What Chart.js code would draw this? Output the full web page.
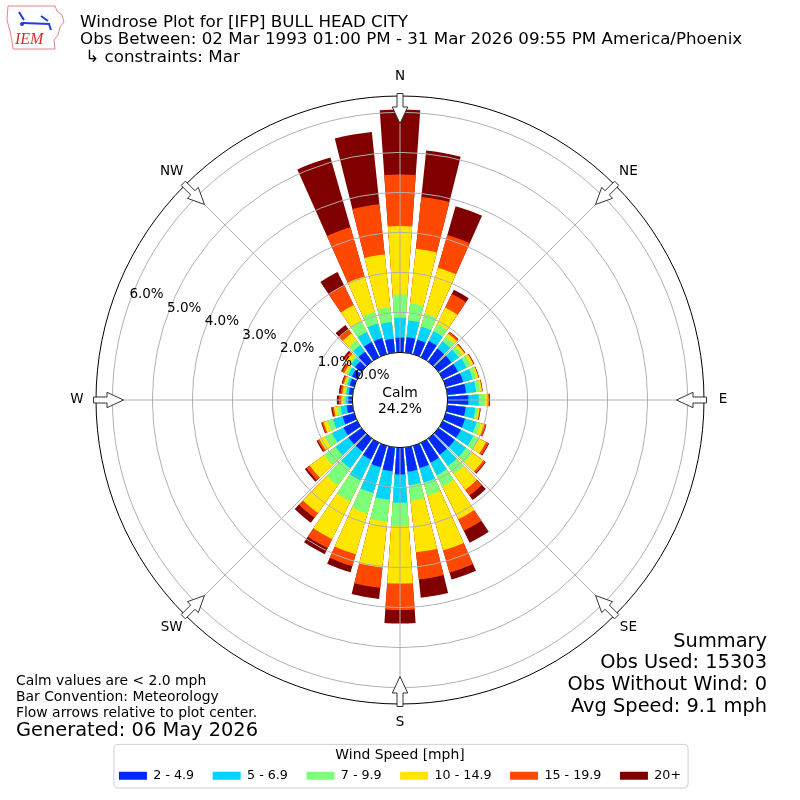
<!DOCTYPE html>
<html>
<head>
<meta charset="utf-8">
<title>Windrose Plot for [IFP] BULL HEAD CITY</title>
<script src="https://cdn.jsdelivr.net/npm/chart.js@4.4.1/dist/chart.umd.min.js"></script>
<style>
  html, body { margin: 0; padding: 0; background: #fff; }
  canvas { display: block; }
</style>
</head>
<body>
<canvas id="windrose" width="800" height="800"></canvas>
<script>
const FONT = '"DejaVu Sans"';

// bar directions, degrees from north (meteorology convention)
const directions = [0, 10, 20, 30, 40, 50, 60, 70, 80, 90, 100, 110, 120, 130, 140, 150, 160, 170,
                    180, 190, 200, 210, 220, 230, 240, 250, 260, 270, 280, 290, 300, 310, 320, 330, 340, 350];
const speedBins = ['2 - 4.9', '5 - 6.9', '7 - 9.9', '10 - 14.9', '15 - 19.9', '20+'];

// percent of all obs in each direction, one list per speed bin
const pct_2_49 = [0.37, 0.39, 0.38, 0.45, 0.40, 0.40, 0.42, 0.45, 0.47, 0.52, 0.46, 0.50, 0.50, 0.50, 0.50, 0.55, 0.58, 0.61,
                  0.67, 0.60, 0.56, 0.47, 0.40, 0.40, 0.38, 0.30, 0.15, 0.10, 0.10, 0.12, 0.15, 0.20, 0.30, 0.42, 0.42, 0.35];
const pct_5_69 = [0.50, 0.42, 0.34, 0.27, 0.22, 0.22, 0.24, 0.25, 0.25, 0.26, 0.24, 0.30, 0.35, 0.35, 0.35, 0.35, 0.38, 0.34,
                  0.71, 0.72, 0.67, 0.58, 0.52, 0.40, 0.32, 0.25, 0.15, 0.07, 0.06, 0.06, 0.10, 0.12, 0.20, 0.28, 0.38, 0.42];
const pct_7_99 = [0.58, 0.43, 0.34, 0.20, 0.14, 0.11, 0.12, 0.10, 0.10, 0.15, 0.07, 0.10, 0.15, 0.20, 0.25, 0.32, 0.34, 0.40,
                  0.59, 0.55, 0.53, 0.58, 0.53, 0.35, 0.20, 0.15, 0.10, 0.05, 0.04, 0.04, 0.05, 0.06, 0.15, 0.30, 0.30, 0.37];
const pct_10_149 = [1.71, 1.37, 1.19, 0.46, 0.10, 0.07, 0.07, 0.05, 0.05, 0.09, 0.04, 0.10, 0.20, 0.33, 0.48, 0.91, 1.42, 1.29,
                    1.43, 1.15, 1.06, 1.05, 0.85, 0.45, 0.15, 0.10, 0.07, 0.06, 0.06, 0.05, 0.06, 0.09, 0.22, 0.45, 0.92, 1.33];
const pct_15_199 = [1.29, 1.30, 0.85, 0.38, 0.05, 0.02, 0.02, 0.01, 0.01, 0.02, 0.02, 0.05, 0.07, 0.06, 0.18, 0.32, 0.58, 0.68,
                    0.66, 0.51, 0.31, 0.25, 0.15, 0.10, 0.05, 0.04, 0.04, 0.06, 0.05, 0.04, 0.06, 0.07, 0.13, 0.55, 1.28, 1.26];
const pct_20p = [1.62, 1.17, 0.75, 0.12, 0.01, 0.01, 0.01, 0.01, 0.01, 0.02, 0.01, 0.01, 0.02, 0.02, 0.14, 0.33, 0.18, 0.46,
                 0.34, 0.28, 0.16, 0.17, 0.15, 0.05, 0.03, 0.02, 0.03, 0.05, 0.04, 0.02, 0.03, 0.04, 0.13, 0.37, 1.82, 1.82];

const rTicks = [0, 1, 2, 3, 4, 5, 6];
const compass = ['N', 'NE', 'E', 'SE', 'S', 'SW', 'W', 'NW'];
const calmPct = 24.2;

const titleLines = [
  'Windrose Plot for [IFP] BULL HEAD CITY',
  'Obs Between: 02 Mar 1993 01:00 PM - 31 Mar 2026 09:55 PM America/Phoenix',
  ' \u21b3 constraints: Mar'
];
const noteLines = ['Calm values are < 2.0 mph', 'Bar Convention: Meteorology', 'Flow arrows relative to plot center.'];
const generatedText = 'Generated: 06 May 2026';
const summaryLines = ['Summary', 'Obs Used: 15303', 'Obs Without Wind: 0', 'Avg Speed: 9.1 mph'];

const binColors = ['#0028ff', '#00d4ff', '#7cff79', '#ffe600', '#ff4800', '#800000'];
const R_MIN = -1.19;   // puts 0% on the edge of the calm circle
const R_MAX = 6.41;
const BAR_DEG = 8;
const GAP_DEG = 2;

// stack the bins: each dataset holds the running total, drawn from the center,
// smaller totals painted over larger ones. every bar is followed by an empty gap slice.
const series = [pct_2_49, pct_5_69, pct_7_99, pct_10_149, pct_15_199, pct_20p];
let running = directions.map(() => 0);
const datasets = series.map((s, i) => {
  running = running.map((v, d) => v + s[d]);
  const data = [];
  running.forEach(v => data.push(v, R_MIN));
  return {
    label: speedBins[i],
    data: data,
    backgroundColor: binColors[i],
    borderWidth: 0,
    angle: c => (c.dataIndex % 2 ? GAP_DEG : BAR_DEG)
  };
});
const labels = [];
directions.forEach(d => labels.push(d + '\u00b0', ''));

function polar(s, bearing, r) {
  const a = (bearing - 90) * Math.PI / 180;
  return [s.xCenter + r * Math.cos(a), s.yCenter + r * Math.sin(a)];
}

function drawArrow(ctx, s, bearing, rTail, rTip) {
  const b = bearing * Math.PI / 180;
  const rNeck = rTip + 16.5;
  const pts = [[rTail, -3], [rNeck, -3], [rNeck, -7.7], [rTip, 0], [rNeck, 7.7], [rNeck, 3], [rTail, 3]];
  ctx.beginPath();
  pts.forEach(([u, w], i) => {
    const x = s.xCenter + u * Math.sin(b) + w * Math.cos(b);
    const y = s.yCenter - u * Math.cos(b) + w * Math.sin(b);
    if (i === 0) ctx.moveTo(x, y); else ctx.lineTo(x, y);
  });
  ctx.closePath();
  ctx.fillStyle = '#fff';
  ctx.fill();
  ctx.strokeStyle = '#333';
  ctx.lineWidth = 1;
  ctx.stroke();
}

function drawLogo(ctx) {
  ctx.save();
  ctx.strokeStyle = '#e08585';
  ctx.lineWidth = 1;
  ctx.beginPath();
  ctx.moveTo(8, 6); ctx.lineTo(55, 6); ctx.lineTo(57, 11); ctx.lineTo(62, 15); ctx.lineTo(64, 22);
  ctx.lineTo(60, 27); ctx.lineTo(58, 35); ctx.lineTo(54, 40); ctx.lineTo(55, 49); ctx.lineTo(13, 49);
  ctx.lineTo(12, 41); ctx.lineTo(10, 31); ctx.lineTo(7, 20); ctx.closePath();
  ctx.stroke();
  ctx.strokeStyle = '#1f3fd6';
  ctx.fillStyle = '#1f3fd6';
  ctx.lineWidth = 2;
  ctx.beginPath();
  ctx.moveTo(23, 23); ctx.lineTo(50, 24);
  ctx.moveTo(19, 12); ctx.lineTo(24, 20);
  ctx.moveTo(41, 16); ctx.lineTo(48, 21);
  ctx.moveTo(49, 24); ctx.lineTo(51, 30);
  ctx.stroke();
  ctx.beginPath(); ctx.arc(22, 24, 2, 0, Math.PI * 2); ctx.fill();
  ctx.font = 'italic 16px "Liberation Serif"';
  ctx.fillStyle = '#d42a2a';
  ctx.textAlign = 'left';
  ctx.textBaseline = 'alphabetic';
  ctx.fillText('IEM', 15, 44);
  ctx.restore();
}

const windroseDecor = {
  id: 'windroseDecor',
  beforeDraw(chart) {
    // legend frame
    const lg = chart.legend;
    if (!lg || !lg.legendHitBoxes.length) return;
    const hb = lg.legendHitBoxes;
    const last = hb[hb.length - 1];
    const x0 = hb[0].left - 5, x1 = last.left + last.width + 7;
    const y0 = lg.top - 4, y1 = lg.bottom - 4;
    const ctx = chart.ctx;
    ctx.save();
    ctx.beginPath();
    ctx.roundRect(x0, y0, x1 - x0, y1 - y0, 4);
    ctx.fillStyle = 'rgba(255,255,255,0.8)';
    ctx.fill();
    ctx.strokeStyle = '#d0d0d0';
    ctx.lineWidth = 1;
    ctx.stroke();
    ctx.restore();
  },
  afterDraw(chart) {
    const ctx = chart.ctx;
    const s = chart.scales.r;
    const r0 = s.getDistanceFromCenterForValue(0);
    const rOut = s.getDistanceFromCenterForValue(R_MAX);
    ctx.save();

    // spokes every 45 degrees, over the bars
    ctx.strokeStyle = '#b0b0b0';
    ctx.lineWidth = 1;
    compass.forEach((c, i) => {
      const a = polar(s, i * 45, r0), b = polar(s, i * 45, rOut);
      ctx.beginPath();
      ctx.moveTo(a[0], a[1]);
      ctx.lineTo(b[0], b[1]);
      ctx.stroke();
    });

    // calm circle
    ctx.beginPath();
    ctx.arc(s.xCenter, s.yCenter, r0, 0, Math.PI * 2);
    ctx.fillStyle = '#fff';
    ctx.fill();
    ctx.strokeStyle = '#000';
    ctx.stroke();
    ctx.fillStyle = '#000';
    ctx.font = '13.9px ' + FONT;
    ctx.textAlign = 'center';
    ctx.textBaseline = 'alphabetic';
    ctx.fillText('Calm', s.xCenter, s.yCenter - 3.5);
    ctx.fillText(calmPct.toFixed(1) + '%', s.xCenter, s.yCenter + 12.5);

    // radial tick labels
    ctx.font = '13.5px ' + FONT;
    ctx.textBaseline = 'middle';
    rTicks.forEach(v => {
      const p = polar(s, 289.7, s.getDistanceFromCenterForValue(v));
      ctx.fillText(v.toFixed(1) + '%', p[0] + 17.3, p[1] - 8.3);
    });

    // compass labels and flow arrows
    compass.forEach((c, i) => {
      const p = polar(s, i * 45, rOut + 19);
      ctx.fillStyle = '#000';
      ctx.fillText(c, p[0], p[1] - 0.5);
      drawArrow(ctx, s, i * 45, rOut + 2.5, rOut - 27.5);
    });

    // header
    drawLogo(ctx);
    ctx.fillStyle = '#000';
    ctx.textAlign = 'left';
    ctx.textBaseline = 'alphabetic';
    ctx.font = '16.7px ' + FONT;
    [26.5, 44, 61.5].forEach((y, i) => ctx.fillText(titleLines[i], 80, y));

    // notes, bottom left
    ctx.font = '13.9px ' + FONT;
    [685, 701, 717].forEach((y, i) => ctx.fillText(noteLines[i], 16, y));
    ctx.font = '19.4px ' + FONT;
    ctx.fillText(generatedText, 16, 736);

    // summary, bottom right
    ctx.textAlign = 'right';
    [646.5, 668.3, 690, 712.3].forEach((y, i) => ctx.fillText(summaryLines[i], 767, y));
    ctx.restore();
  }
};

const chart = new Chart(document.getElementById('windrose').getContext('2d'), {
  type: 'polarArea',
  data: { labels: labels, datasets: datasets },
  options: {
    responsive: false,
    animation: false,
    events: [],
    layout: { padding: { top: 53, left: 96, right: 96, bottom: 8 } },
    scales: {
      r: {
        min: R_MIN,
        max: R_MAX,
        startAngle: -BAR_DEG / 2,
        afterBuildTicks: axis => { axis.ticks = rTicks.concat([R_MAX]).map(v => ({ value: v })); },
        ticks: { display: false },
        pointLabels: { display: false },
        angleLines: { display: false },
        grid: {
          circular: true,
          z: 1,
          lineWidth: 1,
          color: c => (c.tick && c.tick.value === R_MAX ? '#000' : '#b0b0b0')
        }
      }
    },
    plugins: {
      tooltip: { enabled: false },
      legend: {
        position: 'bottom',
        title: {
          display: true,
          text: 'Wind Speed [mph]',
          color: '#000',
          font: { family: FONT, size: 13.9, lineHeight: 1 },
          padding: { top: 0, bottom: -11.5 }
        },
        labels: {
          color: '#000',
          font: { family: FONT, size: 12.7 },
          boxWidth: 28,
          boxHeight: 8,
          padding: 18.5,
          generateLabels: ch => ch.data.datasets.map((ds, i) => ({
            text: ds.label,
            fillStyle: ds.backgroundColor,
            strokeStyle: ds.backgroundColor,
            lineWidth: 0,
            hidden: false,
            datasetIndex: i
          }))
        }
      }
    }
  },
  plugins: [windroseDecor]
});
</script>
</body>
</html>
